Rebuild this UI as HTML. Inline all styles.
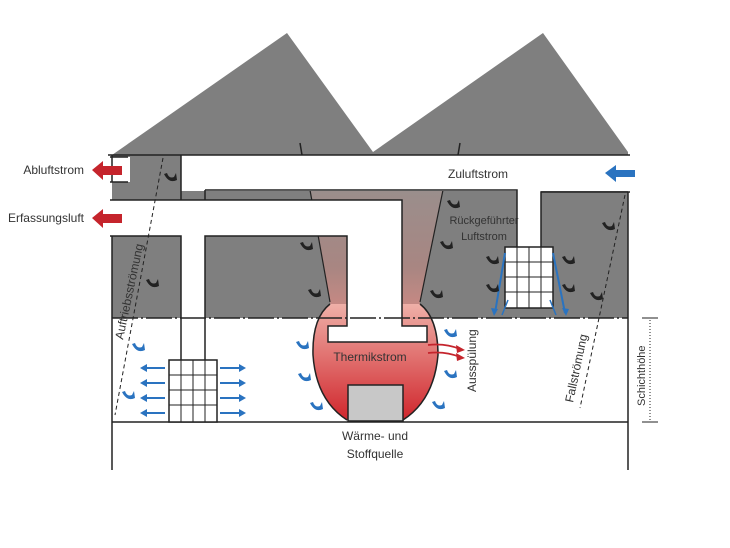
<!DOCTYPE html>
<html><head><meta charset="utf-8"><style>
html,body{margin:0;padding:0;background:#fff;}
svg{display:block;}
text{font-family:"Liberation Sans",sans-serif;fill:#333;}
</style></head><body>
<svg width="730" height="548" viewBox="0 0 730 548" xmlns="http://www.w3.org/2000/svg">
<defs>
<linearGradient id="pl" x1="0" y1="0" x2="0" y2="1">
<stop offset="0" stop-color="#9a8e8c"/><stop offset="0.6" stop-color="#a88682"/><stop offset="1" stop-color="#d08a84"/>
</linearGradient>
<linearGradient id="hood" x1="0" y1="0" x2="0" y2="1">
<stop offset="0" stop-color="#efb0a8"/><stop offset="1" stop-color="#d0262c"/>
</linearGradient>
<g id="sw"><path d="M0,0 l3,-1 q2,6 7,4 l2,-4 l1,7 q-8,4 -13,-6z" /></g>
</defs>
<polygon points="112,155 287,33 373,152 543,33 628,152 628,155" fill="#7f7f7f"/>
<rect x="112" y="155" width="516" height="163" fill="#7f7f7f"/>
<path d="M310,190 L443,190 L420,302 Q418,312 430,318 L330,318 Q332,312 330,302 Z" fill="url(#pl)"/>
<rect x="112" y="318" width="516" height="104" fill="#fff"/>
<path d="M330,304 Q312,318 313,355 Q316,400 347,420 L403,420 Q434,400 438,355 Q438,318 420,304 Z" fill="url(#hood)"/>
<path d="M330,304 Q312,318 313,355 Q316,400 347,420 M403,420 Q434,400 438,355 Q438,318 420,304" fill="none" stroke="#222" stroke-width="1.5"/>
<path d="M310,190 L330,302 M443,190 L420,302" stroke="#222" stroke-width="1.2" fill="none"/>
<rect x="348" y="385" width="55" height="36" fill="#c8c8c8" stroke="#222" stroke-width="1.5"/>
<rect x="110" y="157" width="20" height="25" fill="#fff"/>
<path d="M110,157 H128 M110,182 H128" stroke="#222" stroke-width="1.5"/>
<rect x="181" y="155" width="449" height="36" fill="#fff"/>
<rect x="517" y="190" width="24" height="58" fill="#fff"/>
<path d="M108,155 H630 M181,155 V200 M205,190 H517 V247 M541,247 V192 H630" stroke="#222" stroke-width="1.5" fill="none"/>
<path d="M110,200 H402 V326 H427 V342 H328 V326 H347 V236 H205 V360 H181 V236 H110 Z" fill="#fff"/>
<path d="M110,200 H402 V326 H427 V342 H328 V326 H347 V236 H205 V360 M181,360 V236 H110" stroke="#222" stroke-width="1.5" fill="none"/>
<path d="M205,190 V200" stroke="#222" stroke-width="1.5"/>
<path d="M112,236 V470 M628,192 V470 M112,422 H628 M112,155 V182" stroke="#222" stroke-width="1.5" fill="none"/>
<line x1="112" y1="318" x2="628" y2="318" stroke="#222" stroke-width="1.5" stroke-dasharray="26,3,2,3"/>
<path d="M300,143 l2,12 M460,143 l-2,12" stroke="#222" stroke-width="1.5"/>
<g stroke="#222" stroke-width="1.5" fill="#fff">
<rect x="169" y="360" width="48" height="62"/>
<rect x="505" y="247" width="48" height="61"/>
</g>
<g stroke="#222" stroke-width="1">
<path d="M181,360V422M193,360V422M205,360V422M169,375H217M169,390H217M169,405H217"/>
<path d="M517,247V308M529,247V308M541,247V308M505,262H553M505,277H553M505,292H553"/>
</g>
<g stroke="#2a73c0" stroke-width="2" fill="#2a73c0">
<path d="M165,368H145M165,383H145M165,398H145M165,413H145M220,368H240M220,383H240M220,398H240M220,413H240"/>
<path d="M505,253 L495,313 M553,253 L565,313"/>
<path d="M508,300 L502,315 M550,300 L556,315" stroke-width="1.5"/>
</g>
<g fill="#2a73c0">
<polygon points="140,368 147,364 147,372"/><polygon points="140,383 147,379 147,387"/><polygon points="140,398 147,394 147,402"/><polygon points="140,413 147,409 147,417"/>
<polygon points="246,368 239,364 239,372"/><polygon points="246,383 239,379 239,387"/><polygon points="246,398 239,394 239,402"/><polygon points="246,413 239,409 239,417"/>
<polygon points="494,316 491,308 498,309"/><polygon points="566,316 562,308 569,309"/>
<polygon points="605,173 616,165 616,170 635,170 635,177 616,177 616,182"/>
</g>
<g fill="#c5242c">
<polygon points="92,170 103,161 103,166 122,166 122,175 103,175 103,180"/>
<polygon points="92,218 103,209 103,214 122,214 122,223 103,223 103,228"/>
</g>
<path d="M428,345 Q445,343 460,349 M428,353 Q445,351 460,357" stroke="#c5242c" stroke-width="1.8" fill="none"/>
<polygon points="465,350 456,345 457,353" fill="#c5242c"/><polygon points="465,358 456,353 457,361" fill="#c5242c"/>
<g stroke="#222" stroke-width="1" stroke-dasharray="4,3" fill="none">
<path d="M163,158 L115,415"/>
<path d="M625,195 L580,408"/>
<path d="M650,320 V420" stroke-dasharray="1,2"/>
</g>
<path d="M642,318H658M642,422H658" stroke="#222" stroke-width="1"/>
<g fill="#222">
<use href="#sw" x="164" y="174"/><use href="#sw" x="146" y="280"/>
<use href="#sw" x="300" y="243"/><use href="#sw" x="308" y="290"/>
<use href="#sw" x="447" y="201"/><use href="#sw" x="440" y="242"/><use href="#sw" x="430" y="291"/>
<use href="#sw" x="486" y="257"/><use href="#sw" x="486" y="285"/><use href="#sw" x="562" y="257"/><use href="#sw" x="562" y="285"/>
<use href="#sw" x="602" y="223"/><use href="#sw" x="590" y="293"/>
</g>
<g fill="#2a73c0">
<use href="#sw" x="132" y="344"/><use href="#sw" x="122" y="392"/>
<use href="#sw" x="296" y="342"/><use href="#sw" x="298" y="374"/><use href="#sw" x="310" y="403"/>
<use href="#sw" x="444" y="330"/><use href="#sw" x="444" y="371"/><use href="#sw" x="432" y="402"/>
</g>
<g font-size="12">
<text x="84" y="174" text-anchor="end">Abluftstrom</text>
<text x="84" y="222" text-anchor="end">Erfassungsluft</text>
<text x="478" y="178" text-anchor="middle">Zuluftstrom</text>
<text x="484" y="224" text-anchor="middle" font-size="11">Rückgeführter</text>
<text x="484" y="240" text-anchor="middle" font-size="11">Luftstrom</text>
<text x="370" y="361" text-anchor="middle">Thermikstrom</text>
<text x="375" y="440" text-anchor="middle">Wärme- und</text>
<text x="375" y="458" text-anchor="middle">Stoffquelle</text>
<text transform="translate(476,392) rotate(-90)">Ausspülung</text>
<text transform="translate(573,403) rotate(-78)">Fallströmung</text>
<text transform="translate(123,340) rotate(-78)">Auftriebsströmung</text>
<text transform="translate(645,406) rotate(-90)" font-size="11">Schichthöhe</text>
</g>
</svg>
</body></html>
